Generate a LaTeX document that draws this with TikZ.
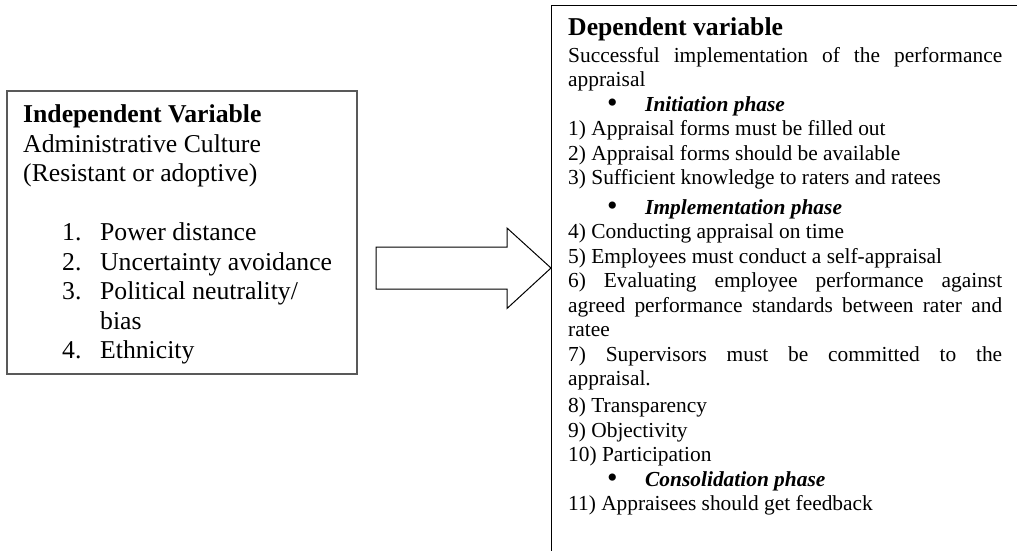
\documentclass[tikz,border=0pt]{standalone}
\usepackage{fontspec}
\setmainfont{Liberation Serif}
\usepackage{xcolor}
\usetikzlibrary{positioning, calc}

\newcommand{\phaseline}[1]{\makebox[77pt][l]{\hspace*{39pt}\raisebox{-1pt}{\fontsize{30}{0}\selectfont\textbullet}}\textbf{\textit{#1}}\par}
\newcommand{\listline}[2]{\hspace*{39pt}\makebox[38pt][l]{#1}#2}

\begin{document}
\begin{tikzpicture}[
    x=1pt, y=-1pt,
    box/.style={rectangle, draw, fill=white, inner sep=0pt, anchor=north west},
    bigtext/.style={font=\fontsize{25.7}{29.5}\selectfont, inner sep=0pt, anchor=north west},
    smalltext/.style={font=\fontsize{21.4}{24.5}\selectfont, inner sep=0pt, anchor=north west, text width=434pt, align=justify},
    blockarrow/.style={draw, fill=white, line width=1pt, line join=miter}
]
    \clip (0,0) rectangle (1017,551);
    % --- 1. Boxes ---
    \node (indep) [box, draw=black!65, line width=1.5pt, minimum width=350pt, minimum height=283pt] at (6,90) {};
    \node (dep) [box, line width=1.2pt, minimum width=520pt, minimum height=600pt] at (551,5) {};
    % --- 2. Texts ---
    \node (indeptext) [bigtext, align=left] at (23,104.9) {\textbf{Independent Variable}\\
        Administrative Culture\\
        (Resistant or adoptive)\\[29.5pt]
        \listline{1.}{Power distance}\\
        \listline{2.}{Uncertainty avoidance}\\
        \listline{3.}{Political neutrality/}\\
        \listline{}{bias}\\
        \listline{4.}{Ethnicity}};
    \node (deptext) [smalltext] at (568,17.4) {\setlength{\parindent}{0pt}%
        {\fontsize{25.7}{29.5}\selectfont\textbf{Dependent variable}\par}
        \vspace{2.5pt}
        Successful implementation of the performance\linebreak appraisal\par
        \phaseline{Initiation phase}
        1) Appraisal forms must be filled out\par
        2) Appraisal forms should be available\par
        3) Sufficient knowledge to raters and ratees\par
        \vspace{5pt}
        \phaseline{Implementation phase}
        4) Conducting appraisal on time\par
        5) Employees must conduct a self-appraisal\par
        6) Evaluating employee performance against\linebreak agreed performance standards between rater and\linebreak ratee\par
        7) Supervisors must be committed to the\linebreak appraisal.\par
        \vspace{2.5pt}
        8) Transparency\par
        9) Objectivity\par
        10) Participation\par
        \phaseline{Consolidation phase}
        11) Appraisees should get feedback\par};
    % --- 3. Block arrow ---
    \coordinate (tail) at (376,268);
    \coordinate (tip) at (dep.west |- tail);
    \draw[blockarrow] (tail) -- ++(0,-21) -- ++(131,0) -- ++(0,-19) -- (tip)
        -- ++(-44,40.5) -- ++(0,-19.5) -- ++(-131,0) -- cycle;
\end{tikzpicture}
\end{document}
